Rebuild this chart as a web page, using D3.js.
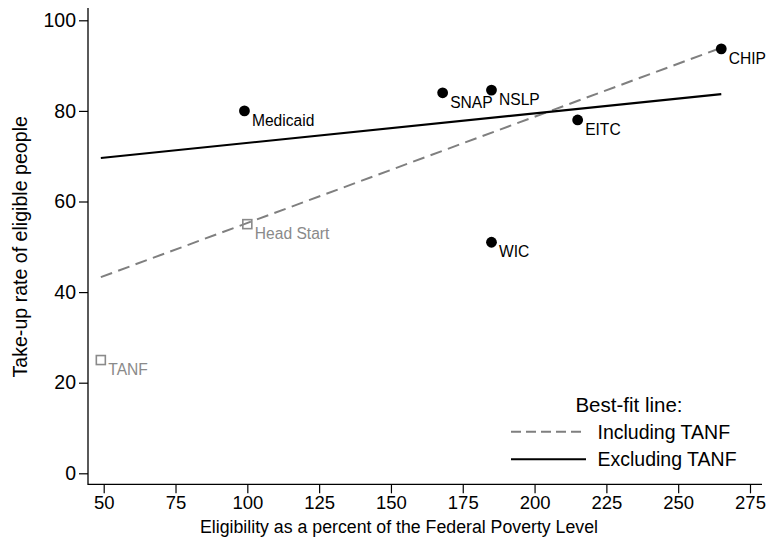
<!DOCTYPE html>
<html>
<head>
<meta charset="utf-8">
<script src="https://cdn.jsdelivr.net/npm/d3@7"></script>
<style>
  html, body { margin: 0; padding: 0; background: #fff; }
  svg { display: block; font-family: "Liberation Sans", Arial, Helvetica, sans-serif; }
</style>
</head>
<body>
<svg id="chart" width="768" height="539"></svg>
<script>
// Programs: eligibility ceiling (% of FPL) and take-up rate (%)
const programs    = ["Medicaid", "SNAP", "NSLP", "CHIP", "EITC", "WIC", "Head Start", "TANF"];
const eligibility = [99, 168, 185, 265, 215, 185, 100, 49];
const takeUp      = [80, 84, 84.6, 93.7, 78, 51, 55, 25];
// "main" programs enter both fits; "other" programs only the fit including TANF
const fitGroup    = ["main", "main", "main", "main", "main", "main", "other", "other"];

const xTicks = [50, 75, 100, 125, 150, 175, 200, 225, 250, 275];
const yTicks = [0, 20, 40, 60, 80, 100];

const legendTitle = "Best-fit line:";
const fitNames = ["Including TANF", "Excluding TANF"];
const xTitle = "Eligibility as a percent of the Federal Poverty Level";
const yTitle = "Take-up rate of eligible people";

const data = programs.map((p, i) => ({ name: p, x: eligibility[i], y: takeUp[i], group: fitGroup[i] }));

const svg = d3.select("#chart");
const x = d3.scaleLinear().domain([50, 275]).range([103.7, 750]);
const y = d3.scaleLinear().domain([0, 100]).range([473.3, 20.3]);

const axisX0 = 88, axisY0 = 484.3;
const gray = "#8a8a8a";

// ordinary least squares fit
function ols(pts) {
  const mx = d3.mean(pts, d => d.x), my = d3.mean(pts, d => d.y);
  const sxy = d3.sum(pts, d => (d.x - mx) * (d.y - my));
  const sxx = d3.sum(pts, d => (d.x - mx) * (d.x - mx));
  const b = sxy / sxx;
  return { a: my - b * mx, b };
}
const xExtent = d3.extent(data, d => d.x);
const fitAll = ols(data);
const fitMain = ols(data.filter(d => d.group === "main"));

// axes
const yAxis = d3.axisLeft(y).tickValues(yTicks).tickSize(9).tickPadding(3).tickSizeOuter(0);
const gy = svg.append("g").attr("transform", `translate(${axisX0},0)`).call(yAxis);
gy.select(".domain").remove();
gy.selectAll(".tick line").attr("stroke", "#000").attr("stroke-width", 1.2);
gy.selectAll(".tick text").attr("font-size", 19.5).attr("fill", "#000").attr("font-family", "Liberation Sans, Arial, sans-serif");

const xAxis = d3.axisBottom(x).tickValues(xTicks).tickSize(9).tickPadding(3).tickSizeOuter(0);
const gx = svg.append("g").attr("transform", `translate(0,${axisY0})`).call(xAxis);
gx.select(".domain").remove();
gx.selectAll(".tick line").attr("stroke", "#000").attr("stroke-width", 1.2);
gx.selectAll(".tick text").attr("font-size", 18.5).attr("fill", "#000").attr("font-family", "Liberation Sans, Arial, sans-serif");

svg.append("line").attr("x1", axisX0).attr("x2", axisX0).attr("y1", 8).attr("y2", axisY0 + 0.6)
  .attr("stroke", "#000").attr("stroke-width", 1.3);
svg.append("line").attr("x1", axisX0).attr("x2", 762).attr("y1", axisY0).attr("y2", axisY0)
  .attr("stroke", "#000").attr("stroke-width", 1.3);

// axis titles
svg.append("text").attr("x", 200).attr("y", 533)
  .attr("font-size", 18).attr("textLength", 398).attr("lengthAdjust", "spacingAndGlyphs").text(xTitle);
svg.append("text").attr("transform", `translate(27,${(473.3 + 20.3) / 2}) rotate(-90)`)
  .attr("text-anchor", "middle").attr("font-size", 19.6).text(yTitle);

// fit lines
const fitLine = f => [{ x: xExtent[0], y: f.a + f.b * xExtent[0] }, { x: xExtent[1], y: f.a + f.b * xExtent[1] }];
const line = d3.line().x(d => x(d.x)).y(d => y(d.y));
svg.append("path").attr("d", line(fitLine(fitAll))).attr("fill", "none")
  .attr("stroke", "#7f7f7f").attr("stroke-width", 2).attr("stroke-dasharray", "12,6.5");
svg.append("path").attr("d", line(fitLine(fitMain))).attr("fill", "none")
  .attr("stroke", "#000").attr("stroke-width", 2.1);

// markers
const main = data.filter(d => d.group === "main");
const other = data.filter(d => d.group === "other");
svg.selectAll("circle.pt").data(main).join("circle").attr("class", "pt")
  .attr("cx", d => x(d.x)).attr("cy", d => y(d.y)).attr("r", 5.4).attr("fill", "#000");
svg.selectAll("rect.pt").data(other).join("rect").attr("class", "pt")
  .attr("x", d => x(d.x) - 4.5).attr("y", d => y(d.y) - 4.5).attr("width", 9).attr("height", 9)
  .attr("fill", "none").attr("stroke", gray).attr("stroke-width", 1.6);

// marker labels
svg.selectAll("text.lab").data(data).join("text").attr("class", "lab")
  .attr("x", d => x(d.x) + 7.5).attr("y", d => y(d.y) + 15)
  .attr("font-size", 15.6).attr("fill", d => d.group === "main" ? "#000" : gray)
  .text(d => d.name);

// legend
const lg = svg.append("g");
lg.append("text").attr("x", 629).attr("y", 412).attr("text-anchor", "middle").attr("font-size", 20.5).text(legendTitle);
const keyY = [431.7, 459.3];
const keyStyle = [{ stroke: "#7f7f7f", dash: "10,5" }, { stroke: "#000", dash: null }];
fitNames.forEach((name, i) => {
  lg.append("line").attr("x1", 511).attr("x2", 586).attr("y1", keyY[i]).attr("y2", keyY[i])
    .attr("stroke", keyStyle[i].stroke).attr("stroke-width", 2).attr("stroke-dasharray", keyStyle[i].dash);
  lg.append("text").attr("x", 597.5).attr("y", keyY[i] + 7).attr("font-size", 19.5).text(name);
});
</script>
</body>
</html>
